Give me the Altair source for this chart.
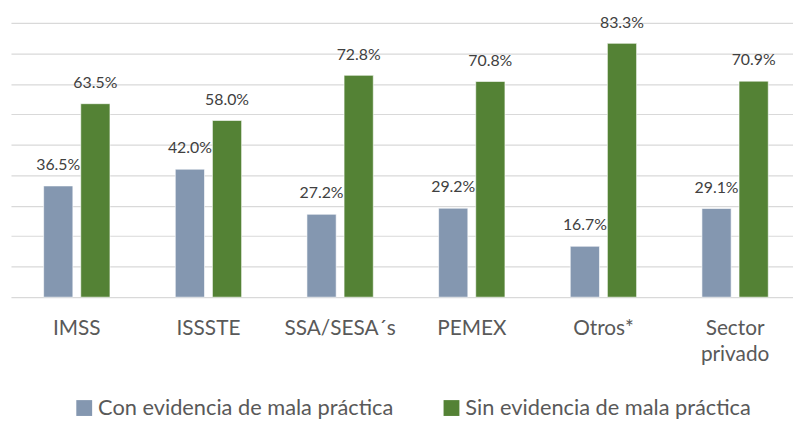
import altair as alt
import pandas as pd

categories = ["IMSS", "ISSSTE", "SSA/SESA´s", "PEMEX", "Otros*", "Sector privado"]
con_evidencia = [36.5, 42.0, 27.2, 29.2, 16.7, 29.1]
sin_evidencia = [63.5, 58.0, 72.8, 70.8, 83.3, 70.9]
series = ["Con evidencia de mala práctica", "Sin evidencia de mala práctica"]
colors = ["#8497B0", "#548235"]
y_ticks = [0, 10, 20, 30, 40, 50, 60, 70, 80, 90]

rows = []
for c, a, b in zip(categories, con_evidencia, sin_evidencia):
    rows.append({"cat": c, "serie": series[0], "valor": a})
    rows.append({"cat": c, "serie": series[1], "valor": b})
df = pd.DataFrame(rows)
df["label"] = df["valor"].map(lambda v: f"{v:.1f}%")

x = alt.X(
    "cat:N",
    sort=categories,
    scale=alt.Scale(range=[0, 798], paddingInner=0, paddingOuter=0),
    axis=alt.Axis(
        title=None,
        labelAngle=0,
        labelExpr="split(datum.label, ' ')",
        labelFont="Lato",
        labelFontSize=21,
        labelColor="#595959",
        labelPadding=21,
        labelLineHeight=26,
        ticks=False,
        tickSize=0,
        domain=False,
    ),
)
xo = alt.XOffset("serie:N", sort=series, scale=alt.Scale(paddingInner=0.213, paddingOuter=0.88))
y = alt.Y(
    "valor:Q",
    scale=alt.Scale(domain=[0, 90], nice=False),
    axis=alt.Axis(
        title=None,
        values=y_ticks,
        labels=False,
        ticks=False,
        domain=False,
        grid=True,
        gridColor="#D9D9D9",
        gridWidth=1.2,
    ),
)

base = alt.Chart(df).encode(x=x, xOffset=xo, y=y)

bars = base.mark_bar(stroke="white", strokeWidth=0.6).encode(
    color=alt.Color(
        "serie:N",
        sort=series,
        scale=alt.Scale(domain=series, range=colors),
        legend=alt.Legend(
            title=None,
            orient="none",
            legendX=63,
            legendY=378,
            direction="horizontal",
            symbolType="square",
            symbolSize=256,
            symbolStrokeWidth=0,
            labelFont="Lato",
            labelFontSize=22,
            labelColor="#595959",
            labelOffset=3,
            labelLimit=0,
            columnPadding=47,
            padding=0,
        ),
    )
)

labels = base.mark_text(
    dy=-16, baseline="alphabetic", font="Lato", fontSize=16, color="#404040"
).encode(text="label:N")

chart = (
    alt.layer(bars, labels)
    .properties(
        width=790,
        height=277,
        padding={"left": 3, "top": 13, "right": 0, "bottom": 123},
        autosize=alt.AutoSizeParams(type="none"),
    )
    .configure_view(stroke=None)
)

chart.save("out.html", embed_options={"renderer": "svg", "actions": False})
